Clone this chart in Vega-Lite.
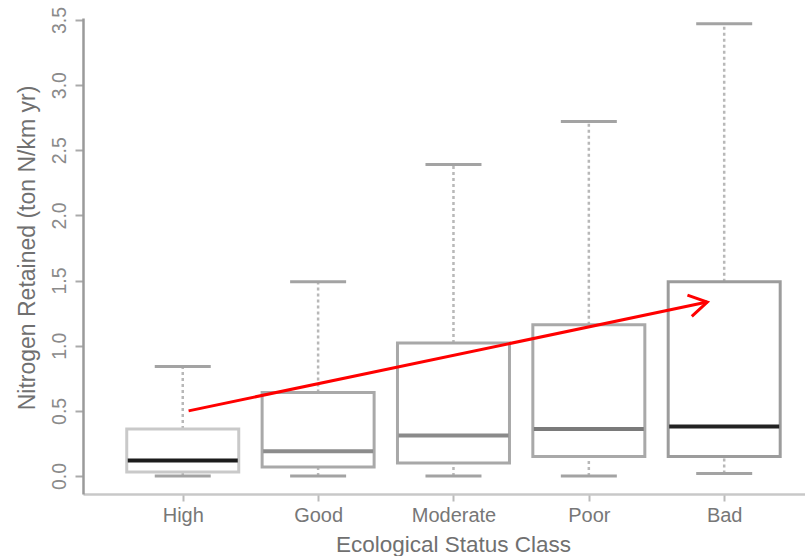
{
  "$schema": "https://vega.github.io/schema/vega-lite/v6.json",
  "width": 722,
  "height": 476,
  "autosize": "none",
  "padding": {"left": 83, "top": 18, "right": 0, "bottom": 62},
  "background": "white",
  "config": {
    "view": {"stroke": null},
    "font": "Liberation Sans"
  },
  "datasets": {
    "boxes": [
      {"pos": 1, "status": "High", "lower": 0.0, "q1": 0.03, "median": 0.12, "q3": 0.36, "upper": 0.84},
      {"pos": 2, "status": "Good", "lower": 0.0, "q1": 0.07, "median": 0.19, "q3": 0.64, "upper": 1.49},
      {"pos": 3, "status": "Moderate", "lower": 0.0, "q1": 0.10, "median": 0.31, "q3": 1.02, "upper": 2.39},
      {"pos": 4, "status": "Poor", "lower": 0.0, "q1": 0.15, "median": 0.36, "q3": 1.16, "upper": 2.72},
      {"pos": 5, "status": "Bad", "lower": 0.02, "q1": 0.15, "median": 0.38, "q3": 1.49, "upper": 3.47}
    ],
    "trend": [
      {"pos": 1.043, "value": 0.5, "pos_end": 4.875, "value_end": 1.335}
    ]
  },
  "layer": [
    {
      "data": {"name": "boxes"},
      "mark": {"type": "rule", "color": "#b8b8b8", "strokeWidth": 2.5, "strokeDash": [3, 3]},
      "encoding": {
        "x": {"field": "pos", "type": "quantitative", "scale": {"domain": [0.3, 5.56], "nice": false, "zero": false},
          "axis": {
            "values": [1, 2, 3, 4, 5],
            "labelExpr": "['High','Good','Moderate','Poor','Bad'][datum.value - 1]",
            "title": "Ecological Status Class",
            "grid": false,
            "domainColor": "#c8c8c8", "domainWidth": 2.5,
            "tickColor": "#bbbbbb", "tickSize": 7, "tickWidth": 2,
            "labelFontSize": 20, "labelColor": "#777777", "labelPadding": 4,
            "titleFontSize": 22.5, "titleFontWeight": "normal", "titleColor": "#707070",
            "titleX": 370, "titleY": 57, "titleAlign": "center", "titleBaseline": "alphabetic"
          }},
        "y": {"field": "q3", "type": "quantitative", "scale": {"domain": [-0.138, 3.515], "nice": false, "zero": false},
          "axis": {
            "values": [0, 0.5, 1, 1.5, 2, 2.5, 3, 3.5],
            "format": ".1f",
            "title": "Nitrogen Retained (ton N/km yr)",
            "grid": false,
            "domainColor": "#9a9a9a", "domainWidth": 2.5,
            "tickColor": "#aaaaaa", "tickSize": 8, "tickWidth": 2,
            "labelAngle": -90, "labelAlign": "center", "labelBaseline": "middle",
            "labelFontSize": 19.5, "labelColor": "#8a8a8a", "labelPadding": 15.5,
            "titleFontSize": 23, "titleFontWeight": "normal", "titleColor": "#707070",
            "titleAngle": 270, "titleX": -56, "titleY": 229.5, "titleAlign": "center", "titleBaseline": "middle"
          }},
        "y2": {"field": "upper"}
      }
    },
    {
      "data": {"name": "boxes"},
      "mark": {"type": "rule", "color": "#b8b8b8", "strokeWidth": 2.5, "strokeDash": [3, 3]},
      "encoding": {
        "x": {"field": "pos", "type": "quantitative"},
        "y": {"field": "lower", "type": "quantitative"},
        "y2": {"field": "q1"}
      }
    },
    {
      "data": {"name": "boxes"},
      "mark": {"type": "tick", "orient": "horizontal", "size": 56, "thickness": 3, "color": "#a3a3a3", "opacity": 1},
      "encoding": {
        "x": {"field": "pos", "type": "quantitative"},
        "y": {"field": "upper", "type": "quantitative"}
      }
    },
    {
      "data": {"name": "boxes"},
      "mark": {"type": "tick", "orient": "horizontal", "size": 56, "thickness": 3, "color": "#a3a3a3", "opacity": 1},
      "encoding": {
        "x": {"field": "pos", "type": "quantitative"},
        "y": {"field": "lower", "type": "quantitative"}
      }
    },
    {
      "data": {"name": "boxes"},
      "mark": {"type": "bar", "size": 112, "fill": "white", "strokeWidth": 3, "opacity": 1},
      "encoding": {
        "x": {"field": "pos", "type": "quantitative"},
        "y": {"field": "q1", "type": "quantitative"},
        "y2": {"field": "q3"},
        "stroke": {"field": "status", "type": "nominal", "legend": null,
          "scale": {"domain": ["High", "Good", "Moderate", "Poor", "Bad"],
                    "range": ["#c9c9c9", "#a9a9a9", "#a8a8a8", "#a9a9a9", "#9c9c9c"]}}
      }
    },
    {
      "data": {"name": "boxes"},
      "mark": {"type": "tick", "orient": "horizontal", "size": 110, "thickness": 4, "opacity": 1},
      "encoding": {
        "x": {"field": "pos", "type": "quantitative"},
        "y": {"field": "median", "type": "quantitative"},
        "fill": {"field": "status", "type": "nominal", "legend": null,
          "scale": {"domain": ["High", "Good", "Moderate", "Poor", "Bad"],
                    "range": ["#1c1c1c", "#8c8c8c", "#8a8a8a", "#7a7a7a", "#222222"]}}
      }
    },
    {
      "data": {"name": "trend"},
      "mark": {"type": "rule", "color": "#ff0000", "strokeWidth": 3},
      "encoding": {
        "x": {"field": "pos", "type": "quantitative"},
        "y": {"field": "value", "type": "quantitative"},
        "x2": {"field": "pos_end"},
        "y2": {"field": "value_end"}
      }
    },
    {
      "data": {"name": "trend"},
      "mark": {"type": "point", "shape": "M-1,-0.6L0,0L-1,0.6", "filled": false, "stroke": "#ff0000", "strokeWidth": 3, "size": 1300, "angle": -11.6, "opacity": 1},
      "encoding": {
        "x": {"field": "pos_end", "type": "quantitative"},
        "y": {"field": "value_end", "type": "quantitative"}
      }
    }
  ]
}
